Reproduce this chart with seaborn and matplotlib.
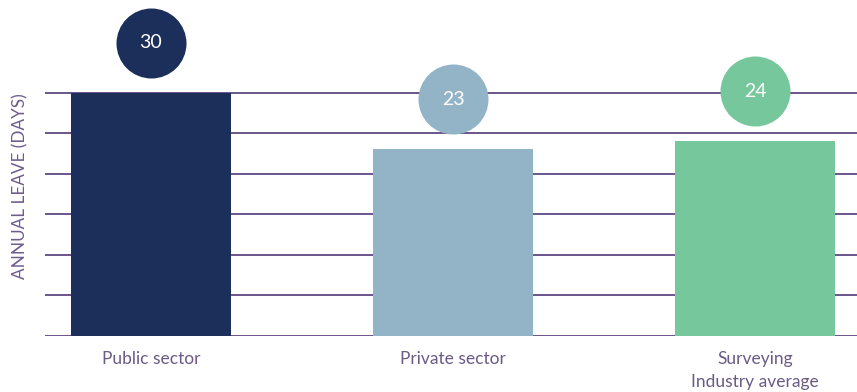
import matplotlib
matplotlib.use("Agg")
import matplotlib.pyplot as plt
import matplotlib.transforms as mtransforms
import seaborn as sns
import pandas as pd

# Annual leave by sector
categories = ["Public sector", "Private sector", "Surveying\nIndustry average"]
leave_days = [30, 23, 24]
bar_colors = ["#1c2e5a", "#93b4c6", "#76c79b"]
grid_values = [0, 5, 10, 15, 20, 25, 30]

df = pd.DataFrame({"sector": categories, "days": leave_days})

sns.set_theme(style="white")
plt.rcParams["font.family"] = ["Lato", "DejaVu Sans"]

fig = plt.figure(figsize=(8.57, 3.92), dpi=100)
ax = fig.add_axes([45 / 857, 56 / 392, 812 / 857, 336 / 392])

# horizontal guide lines behind the bars
for gv in grid_values:
    ax.axhline(gv, color="#5f4682", lw=1.3, zorder=0)

sns.barplot(data=df, x="sector", y="days", hue="sector",
            palette=bar_colors, width=0.53, saturation=1, linewidth=0,
            legend=False, ax=ax, zorder=2)

# value bubbles floating above each bar
bubble_tf = mtransforms.offset_copy(ax.transData, fig=fig, x=0, y=50, units="dots")
for i, (v, c) in enumerate(zip(leave_days, bar_colors)):
    ax.scatter([i], [v], s=2540, color=c, transform=bubble_tf,
               zorder=4, linewidths=0, clip_on=False)
    ax.text(i, v, str(v), transform=bubble_tf, ha="center", va="center",
            color="white", fontsize=14, fontweight="normal", zorder=5)

ax.set_xlim(-0.351, 2.338)
ax.set_ylim(0, 336 / 8.11)
ax.set_yticks([])
ax.set_xlabel("")
ax.set_ylabel("ANNUAL LEAVE (DAYS)", color="#6e5c8e", fontsize=12.3,
              fontweight="normal")
ax.yaxis.set_label_coords(-0.021, 0.445)
ax.tick_params(axis="x", length=0, pad=11, labelsize=12.5, labelcolor="#6a5a86")
for lbl in ax.get_xticklabels():
    lbl.set_fontweight("normal")
    lbl.set_linespacing(1.55)
for sp in ax.spines.values():
    sp.set_visible(False)

fig.savefig("out.png", dpi=100)
